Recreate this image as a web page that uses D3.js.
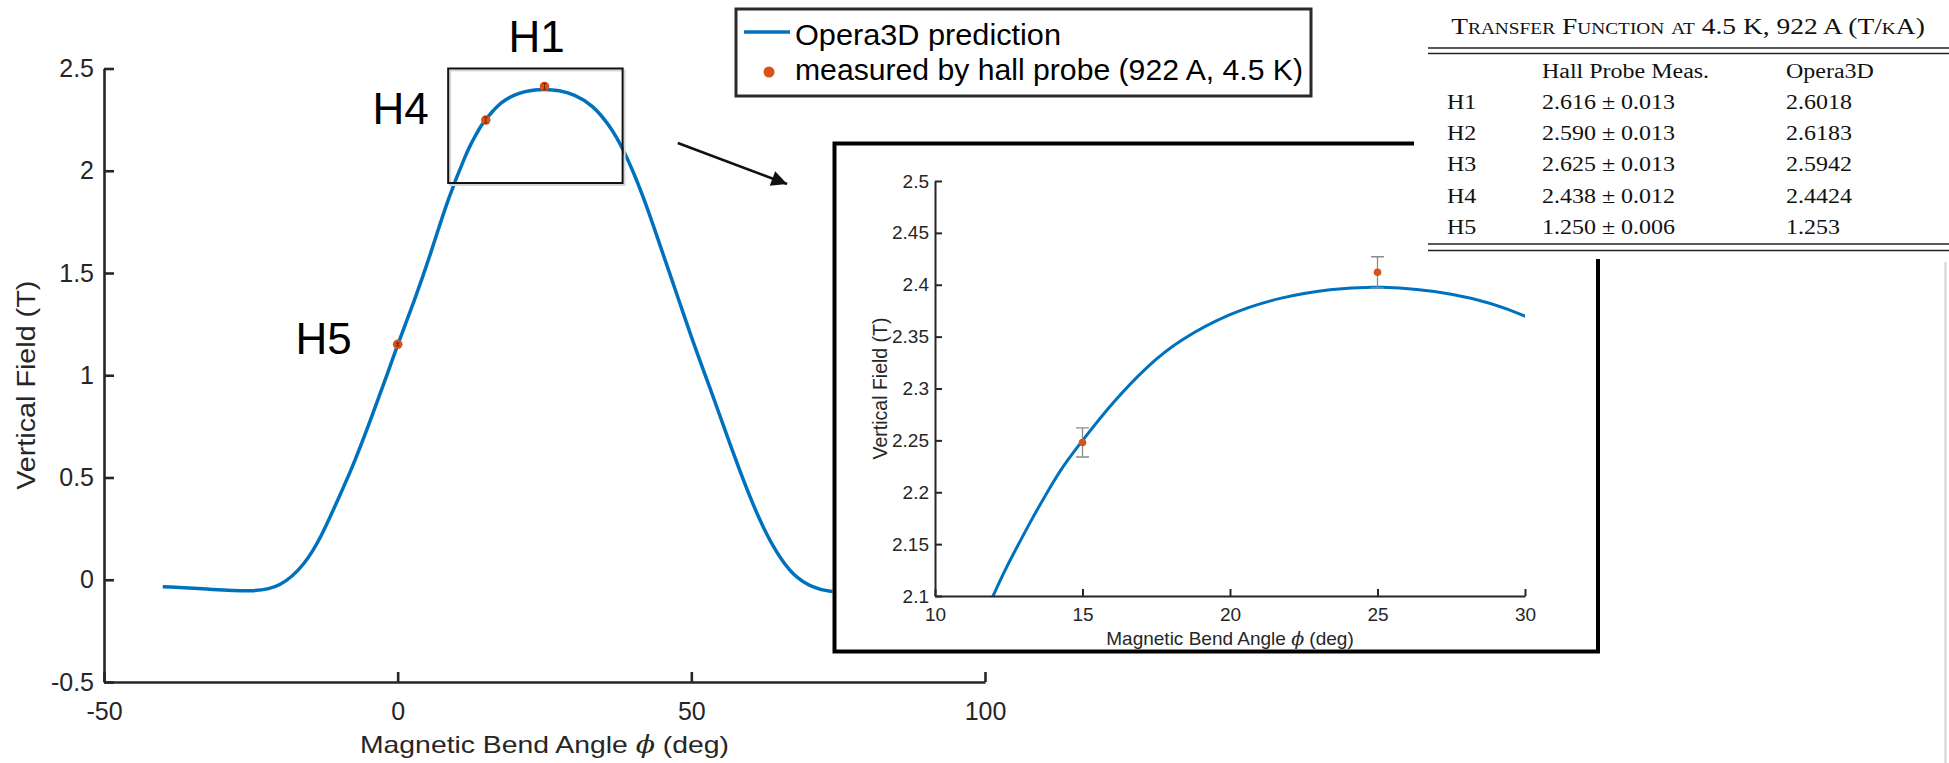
<!DOCTYPE html>
<html><head><meta charset="utf-8">
<script src="https://cdn.jsdelivr.net/npm/d3@7"></script>
<style>
html,body{margin:0;padding:0;background:#fff;overflow:hidden;}
svg{display:block;}
</style></head><body>
<svg id="chart" width="1949" height="763"></svg>
<script>
// ---------------- DATA ----------------
// Opera3D prediction (magnetic bend angle phi in deg, vertical field in T)
const curvePhi   = [-40, -32, -24.4, -19.9, -15.9, -13, -10.2, -7.4, -4.5, -1.7, 0, 2.8, 5.7, 8.5,
                    11.9, 12.65, 13.2, 13.8, 14.35, 15, 16, 17.2, 18.3, 20, 21.7, 23.4, 25, 27.5, 30,
                    33.3, 36.1, 38.4, 41.8, 44.6, 47.5, 50.3, 53.1, 56, 58.8, 61.6, 64.5, 67.3, 70.7, 73.8, 76];
const curveField = [-0.034, -0.046, -0.06, -0.035, 0.07, 0.21, 0.39, 0.57, 0.79, 1.01, 1.15, 1.36, 1.60, 1.86,
                    2.100, 2.140, 2.170, 2.200, 2.226, 2.250, 2.286, 2.322, 2.347, 2.373, 2.388, 2.396, 2.399, 2.393, 2.374,
                    2.32, 2.22, 2.11, 1.88, 1.64, 1.40, 1.16, 0.945, 0.71, 0.49, 0.29, 0.13, 0.02, -0.04, -0.06, -0.06];
// Hall probe measurements (922 A, 4.5 K)
const measNames = ['H5', 'H4', 'H1'];
const measPhi   = [0, 15, 25];
const measField = [1.151, 2.248, 2.412];
const measErr   = [0.007, 0.014, 0.015];

const xTicksMain  = [-50, 0, 50, 100];
const yTicksMain  = [-0.5, 0, 0.5, 1, 1.5, 2, 2.5];
const xTicksInset = [10, 15, 20, 25, 30];
const yTicksInset = [2.1, 2.15, 2.2, 2.25, 2.3, 2.35, 2.4, 2.45, 2.5];

const legendLabels = ['Opera3D prediction', 'measured by hall probe (922 A, 4.5 K)'];
const xAxisLabelParts = ['Magnetic Bend Angle ', '\u03D5', ' (deg)'];
const yAxisLabel = 'Vertical Field (T)';

const tableTitle  = 'Transfer Function at 4.5 K, 922 A (T/kA)';
const tableHeader = ['Hall Probe Meas.', 'Opera3D'];
const tableRows   = ['H1', 'H2', 'H3', 'H4', 'H5'];
const hallMeas    = ['2.616 \u00B1 0.013', '2.590 \u00B1 0.013', '2.625 \u00B1 0.013', '2.438 \u00B1 0.012', '1.250 \u00B1 0.006'];
const operaVals   = ['2.6018', '2.6183', '2.5942', '2.4424', '1.253'];

// ---------------- LAYOUT / STYLE ----------------
const W = 1949, H = 763;
const BLUE = '#0072BD', ORANGE = '#D95319', AX = '#262626';
const SANS = "'Liberation Sans', Arial, Helvetica, sans-serif";
const SERIF = "'Liberation Serif', 'Times New Roman', Times, serif";

const svg = d3.select('#chart');
svg.append('rect').attr('width', W).attr('height', H).attr('fill', '#fff');

const defs = svg.append('defs');
defs.append('marker').attr('id', 'arrowhead').attr('viewBox', '0 0 10 10')
  .attr('refX', 10).attr('refY', 5).attr('markerWidth', 7.5).attr('markerHeight', 6)
  .attr('markerUnits', 'strokeWidth').attr('orient', 'auto')
  .append('path').attr('d', 'M0,0 L10,5 L0,10 z').attr('fill', '#111');

const curve = curvePhi.map((p, i) => ({ p, v: curveField[i] }));
const meas = measPhi.map((p, i) => ({ p, v: measField[i], e: measErr[i], name: measNames[i] }));

function addLabelParts(t, parts) {
  parts.forEach((s, i) => {
    const ts = t.append('tspan').text(s);
    if (i === 1) ts.attr('font-style', 'italic').attr('font-family', "'DejaVu Serif', 'Liberation Serif', serif");
  });
  return t;
}

// ---------------- MAIN PLOT ----------------
const x = d3.scaleLinear().domain([-50, 100]).range([104, 985]);
const y = d3.scaleLinear().domain([-0.5, 2.5]).range([682, 68.5]);

const line = d3.line().x(d => x(d.p)).y(d => y(d.v)).curve(d3.curveBasis);

svg.append('path').datum(curve).attr('d', line).attr('fill', 'none')
  .attr('stroke', BLUE).attr('stroke-width', 3.5).attr('stroke-linejoin', 'round');

function styleAxis(g, sw, fs) {
  g.select('.domain').attr('stroke', AX).attr('stroke-width', sw);
  g.selectAll('.tick line').attr('stroke', AX).attr('stroke-width', sw);
  g.selectAll('.tick text').attr('font-family', SANS).attr('font-size', fs).attr('fill', AX);
}

const gx = svg.append('g').attr('transform', `translate(0,${y(-0.5)})`)
  .call(d3.axisBottom(x).tickValues(xTicksMain).tickSizeInner(-10).tickSizeOuter(0)
    .tickPadding(20).tickFormat(d => String(d)));
styleAxis(gx, 2.6, 25);

const gy = svg.append('g').attr('transform', `translate(${x(-50)},0)`)
  .call(d3.axisLeft(y).tickValues(yTicksMain).tickSizeInner(-10).tickSizeOuter(0)
    .tickPadding(10).tickFormat(d => String(d)));
styleAxis(gy, 2.6, 25);

addLabelParts(svg.append('text').attr('x', (x(-50) + x(100)) / 2).attr('y', 753)
  .attr('text-anchor', 'middle').attr('font-family', SANS).attr('font-size', 24).attr('fill', AX)
  .attr('textLength', 369).attr('lengthAdjust', 'spacingAndGlyphs'), xAxisLabelParts);

svg.append('text').attr('transform', `translate(35,${(y(-0.5) + y(2.5)) / 2 + 10}) rotate(-90)`)
  .attr('text-anchor', 'middle').attr('font-family', SANS).attr('font-size', 25).attr('fill', AX)
  .attr('textLength', 209).attr('lengthAdjust', 'spacingAndGlyphs').text(yAxisLabel);

// zoom region box (in data units)
const zoomBox = { p0: 8.6, p1: 38.3, v0: 1.94, v1: 2.5 };
svg.append('rect').attr('x', x(zoomBox.p0) + 2).attr('y', y(zoomBox.v1) + 2)
  .attr('width', x(zoomBox.p1) - x(zoomBox.p0)).attr('height', y(zoomBox.v0) - y(zoomBox.v1))
  .attr('fill', 'none').attr('stroke', '#d8d8d8').attr('stroke-width', 2);
svg.append('rect').attr('x', x(zoomBox.p0)).attr('y', y(zoomBox.v1))
  .attr('width', x(zoomBox.p1) - x(zoomBox.p0)).attr('height', y(zoomBox.v0) - y(zoomBox.v1))
  .attr('fill', 'none').attr('stroke', '#111').attr('stroke-width', 2);

// measured points on main plot
const gm = svg.append('g');
gm.selectAll('circle').data(meas).join('circle')
  .attr('cx', d => x(d.p)).attr('cy', d => y(d.v)).attr('r', 4.8).attr('fill', ORANGE);
gm.selectAll('path.eb').data(meas).join('path').attr('class', 'eb')
  .attr('d', d => {
    const cx = x(d.p), t = y(d.v + d.e), b = y(d.v - d.e);
    return `M${cx - 1.8},${t}H${cx + 1.8}M${cx},${t}V${b}M${cx - 1.8},${b}H${cx + 1.8}`;
  })
  .attr('stroke', '#5a2a10').attr('stroke-width', 1).attr('fill', 'none');

// H labels
const hLabelOffsets = { H1: { dx: -8, dy: -34, anchor: 'middle' },
                        H4: { dx: -57, dy: 3.5, anchor: 'end' },
                        H5: { dx: -46, dy: 10, anchor: 'end' } };
svg.selectAll('text.hlab').data(meas).join('text').attr('class', 'hlab')
  .attr('x', d => x(d.p) + hLabelOffsets[d.name].dx)
  .attr('y', d => y(d.v) + hLabelOffsets[d.name].dy)
  .attr('text-anchor', d => hLabelOffsets[d.name].anchor)
  .attr('font-family', SANS).attr('font-size', 44).attr('fill', '#000')
  .text(d => d.name);

// arrow (data units of main plot)
const arrowFrom = { p: 47.7, v: 2.136 }, arrowTo = { p: 66.3, v: 1.935 };
svg.append('line').attr('x1', x(arrowFrom.p)).attr('y1', y(arrowFrom.v))
  .attr('x2', x(arrowTo.p)).attr('y2', y(arrowTo.v))
  .attr('stroke', '#111').attr('stroke-width', 2.6).attr('marker-end', 'url(#arrowhead)');

// ---------------- LEGEND ----------------
const lg = svg.append('g');
lg.append('rect').attr('x', 736).attr('y', 9).attr('width', 575).attr('height', 87)
  .attr('fill', '#fff').attr('stroke', '#2a2a2a').attr('stroke-width', 3);
lg.append('line').attr('x1', 744).attr('x2', 790).attr('y1', 32).attr('y2', 32)
  .attr('stroke', BLUE).attr('stroke-width', 3.5);
lg.append('circle').attr('cx', 769).attr('cy', 72).attr('r', 5.5).attr('fill', ORANGE);
lg.selectAll('text').data(legendLabels).join('text')
  .attr('x', 795).attr('y', (d, i) => i === 0 ? 45 : 80)
  .attr('font-family', SANS).attr('font-size', 30).attr('fill', '#000')
  .attr('textLength', (d, i) => i === 0 ? 266 : 508).attr('lengthAdjust', 'spacingAndGlyphs')
  .text(d => d);

// ---------------- INSET ----------------
const inset = { left: 832.5, top: 141.5, right: 1600, bottom: 653.5 };
svg.append('rect').attr('x', inset.left).attr('y', inset.top)
  .attr('width', inset.right - inset.left).attr('height', inset.bottom - inset.top).attr('fill', '#fff');

const xi = d3.scaleLinear().domain([10, 30]).range([935, 1525]);
const yi = d3.scaleLinear().domain([2.1, 2.5]).range([596, 181]);

defs.append('clipPath').attr('id', 'insetClip').append('rect')
  .attr('x', xi(10)).attr('y', yi(2.5)).attr('width', xi(30) - xi(10)).attr('height', yi(2.1) - yi(2.5));

const linei = d3.line().x(d => xi(d.p)).y(d => yi(d.v)).curve(d3.curveBasis);
svg.append('path').datum(curve).attr('d', linei).attr('fill', 'none')
  .attr('clip-path', 'url(#insetClip)').attr('stroke', BLUE).attr('stroke-width', 3);

const gxi = svg.append('g').attr('transform', `translate(0,${yi(2.1)})`)
  .call(d3.axisBottom(xi).tickValues(xTicksInset).tickSizeInner(-7).tickSizeOuter(0)
    .tickPadding(12).tickFormat(d => String(d)));
styleAxis(gxi, 2, 19);
const gyi = svg.append('g').attr('transform', `translate(${xi(10)},0)`)
  .call(d3.axisLeft(yi).tickValues(yTicksInset).tickSizeInner(-7).tickSizeOuter(0)
    .tickPadding(6).tickFormat(d => String(+d.toFixed(2))));
styleAxis(gyi, 2, 19);

addLabelParts(svg.append('text').attr('x', (xi(10) + xi(30)) / 2).attr('y', 645)
  .attr('text-anchor', 'middle').attr('font-family', SANS).attr('font-size', 19).attr('fill', AX),
  xAxisLabelParts);
svg.append('text').attr('transform', `translate(887,${(yi(2.1) + yi(2.5)) / 2}) rotate(-90)`)
  .attr('text-anchor', 'middle').attr('font-family', SANS).attr('font-size', 19.5).attr('fill', AX)
  .text(yAxisLabel);

const measIn = meas.filter(d => d.p >= 10 && d.p <= 30);
const gmi = svg.append('g');
gmi.selectAll('path').data(measIn).join('path')
  .attr('d', d => {
    const cx = xi(d.p), t = yi(d.v + d.e), b = yi(d.v - d.e);
    return `M${cx - 6.5},${t}H${cx + 6.5}M${cx},${t}V${b}M${cx - 6.5},${b}H${cx + 6.5}`;
  })
  .attr('stroke', '#8c8c8c').attr('stroke-width', 1.3).attr('fill', 'none');
gmi.selectAll('circle').data(measIn).join('circle')
  .attr('cx', d => xi(d.p)).attr('cy', d => yi(d.v)).attr('r', 3.8).attr('fill', ORANGE);

svg.append('rect').attr('x', inset.left + 2).attr('y', inset.top + 2)
  .attr('width', inset.right - inset.left - 4).attr('height', inset.bottom - inset.top - 4)
  .attr('fill', 'none').attr('stroke', '#000').attr('stroke-width', 4);

// ---------------- TABLE ----------------
const SX = 1.17;
svg.append('rect').attr('x', 1414).attr('y', 0).attr('width', W - 1414).attr('height', 259).attr('fill', '#fff');
function stext(X, Y, str, fs, anchor) {
  return svg.append('text').attr('transform', `translate(${X},${Y}) scale(${SX},1)`)
    .attr('text-anchor', anchor || 'start').attr('font-family', SERIF).attr('font-size', fs)
    .attr('fill', '#111').text(str);
}
stext(1688, 34, tableTitle, 23.5, 'middle').style('font-variant', 'small-caps');
[48, 53.5, 244, 250.5].forEach(yy => {
  svg.append('line').attr('x1', 1428).attr('x2', W).attr('y1', yy).attr('y2', yy)
    .attr('stroke', '#222').attr('stroke-width', 1.4);
});
stext(1542, 78, tableHeader[0], 20.5);
stext(1786, 78, tableHeader[1], 20.5);
const rowY = [109, 140, 171, 202.5, 234];
tableRows.forEach((r, i) => {
  stext(1447, rowY[i], r, 20.5);
  stext(1542, rowY[i], hallMeas[i], 20.5);
  stext(1786, rowY[i], operaVals[i], 20.5);
});

// page edge line at right
svg.append('line').attr('x1', 1945.5).attr('x2', 1945.5).attr('y1', 262).attr('y2', H)
  .attr('stroke', '#d4d4d4').attr('stroke-width', 2);
</script>
</body></html>
